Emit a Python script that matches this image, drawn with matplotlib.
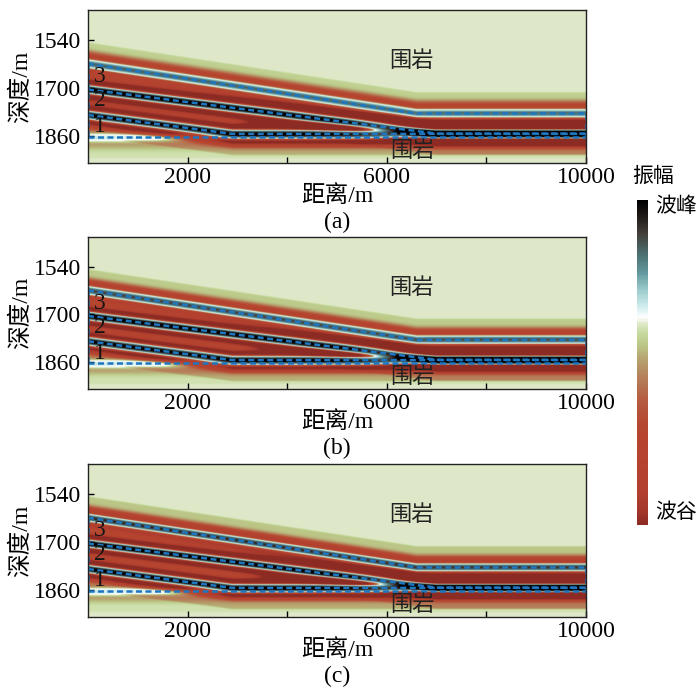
import numpy as np
import matplotlib
matplotlib.use("Agg")
import matplotlib.pyplot as plt
from matplotlib.colors import LinearSegmentedColormap, FuncNorm, Normalize
from matplotlib.cm import ScalarMappable

plt.rcParams['font.family'] = ['Liberation Serif', 'Noto Sans CJK SC', 'DejaVu Sans']
plt.rcParams['axes.unicode_minus'] = False

# ---------------- model data ----------------
# interfaces of the three-layer wedge model (distance m, depth m)
i1_x = [0, 6600, 10000];  i1_z = [1619, 1785, 1785]   # top of layer 3
i2_x = [0, 7000, 10000];  i2_z = [1705, 1852, 1852]   # top of layer 2
i3_x = [0, 2900, 10000];  i3_z = [1790, 1853, 1853]   # top of layer 1
i4_x = [0, 10000];        i4_z = [1864, 1864]         # base of layer 1

# reflection strength of each interface, one list per panel
refl_a = [0.45, 1.0, 0.90, 0.10]
refl_b = [0.55, 1.0, 0.90, 0.10]
refl_c = [0.65, 1.0, 0.95, 0.10]
# wavelet widths (peak width, trough width) per panel, m
wav_a = [13.0, 38.0]
wav_b = [13.0, 36.0]
wav_c = [12.0, 35.0]

panel_tags = ['(a)', '(b)', '(c)']
layer_names = ['3', '2', '1']
layer_label_x = [240, 240, 240]
layer_label_z = [1663, 1743, 1830]
rock_label_x = [6500, 6520]
rock_label_z = [1613, 1912]

xticks = [2000, 4000, 6000, 8000, 10000]
xtick_labels = ['2000', '', '6000', '', '10000']
yticks = [1540, 1700, 1860]
xlim = (0, 10000)
zlim = (1950, 1440)

# colour scale: position -> colour
cmap_pos = [0.00, 0.04, 0.10, 0.30, 0.38, 0.45, 0.51, 0.56, 0.595, 0.62, 0.64,
            0.67, 0.72, 0.78, 0.84, 0.90, 0.95, 1.00]
cmap_col = ['#8c2b23', '#a3362b', '#b23f2f', '#b6462f', '#b55a3f', '#b57d58',
            '#b6a26e', '#bccb8a', '#c8dca2', '#dfe9c9', '#ffffff', '#d4eeee',
            '#a0cfd0', '#5f969b', '#4b6b6c', '#433d38', '#201c1a', '#000000']
cmap = LinearSegmentedColormap.from_list('amp', list(zip(cmap_pos, cmap_col)))

zero_pos = 0.62
neg_lim, neg_gam = 0.32, 0.8
pos_lim, pos_gam = 0.80, 0.8


def fwd(v):
    v = np.asarray(v, dtype=float)
    a = np.abs(v)
    return np.where(v < 0, -zero_pos * (a / neg_lim) ** neg_gam,
                    (1 - zero_pos) * (a / pos_lim) ** pos_gam)


def inv(y):
    y = np.asarray(y, dtype=float)
    a = np.abs(y)
    return np.where(y < 0, -neg_lim * (a / zero_pos) ** (1 / neg_gam),
                    pos_lim * (a / (1 - zero_pos)) ** (1 / pos_gam))


norm = FuncNorm((fwd, inv), vmin=-neg_lim, vmax=pos_lim)

# ---------------- synthetic section ----------------
xg = np.arange(0, 10001, 20.0)
zg = np.arange(1440, 1951, 1.0)
X, Z = np.meshgrid(xg, zg)
ifaces = [(i1_x, i1_z), (i2_x, i2_z), (i3_x, i3_z), (i4_x, i4_z)]


def wavelet(t, sg, sp):
    c = 0.45
    tail = 0.03 * 0.5 * (1 - np.tanh((np.abs(t) - 70) / 2.0))
    return (1 + c) * np.exp(-(t / sg) ** 2) - c * np.exp(-(t / sp) ** 4) - tail


def section(refl, wav):
    amp = np.zeros_like(X)
    for (ix, iz), r in zip(ifaces, refl):
        zi = np.interp(xg, ix, iz)[None, :]
        amp += r * wavelet(Z - zi, wav[0], wav[1])
    return amp


fig = plt.figure(figsize=(7, 6.91), dpi=100)
W, H = 700.0, 691.0
ax_px = [(10, 163), (237, 389), (464, 617)]
left, right = 88, 586
line_col = '#1f76c0'
dash = (2.4, 1.4)

for k, (refl, wav) in enumerate([(refl_a, wav_a), (refl_b, wav_b), (refl_c, wav_c)]):
    top, bot = ax_px[k]
    ax = fig.add_axes([left / W, 1 - bot / H, (right - left) / W, (bot - top) / H])
    amp = section(refl, wav)
    ax.imshow(amp, cmap=cmap, norm=norm, aspect='auto', interpolation='bilinear',
              extent=[xg[0] - 10, xg[-1] + 10, zg[-1] + 0.5, zg[0] - 0.5])
    for ix, iz in ifaces:
        ax.plot(ix, iz, color=line_col, lw=1.8, dashes=dash)
    for xe, j in [(i1_x[0], 0), (i1_x[-1], -1)]:
        ax.plot([xe, xe], [i1_z[j], i4_z[j]], color=line_col, lw=1.8, dashes=dash)
    ax.set_xlim(*xlim)
    ax.set_ylim(*zlim)
    ax.set_xticks(xticks)
    ax.set_xticklabels(xtick_labels)
    ax.set_yticks(yticks)
    ax.tick_params(direction='in', length=4, width=1, labelsize=17, colors='black')
    ax.tick_params(axis='x', pad=3)
    ax.tick_params(axis='y', pad=5)
    for s in ax.spines.values():
        s.set_linewidth(1.0)
        s.set_color('#222222')
    for name, lx, lz in zip(layer_names, layer_label_x, layer_label_z):
        ax.text(lx, lz, name, fontsize=17, ha='center', va='center', color='#151515')
    for lx, lz in zip(rock_label_x, rock_label_z):
        ax.text(lx, lz, '围岩', fontsize=16, ha='center', va='center', color='#222222')
    h = bot - top
    wpx = right - left
    ax.set_xlabel('距离/m', fontsize=17)
    ax.xaxis.set_label_coords(0.5, -33 / h)
    ax.xaxis.label.set_va('center')
    ax.set_ylabel('深度/m', fontsize=17)
    ax.yaxis.set_label_coords(-(left - 21) / wpx, 0.5)
    ax.yaxis.label.set_va('center')
    ax.text(0.5, -59 / h, panel_tags[k], transform=ax.transAxes, fontsize=17,
            ha='center', va='center')

cax = fig.add_axes([637 / W, 1 - 525 / H, 11 / W, 325 / H])
cb = fig.colorbar(ScalarMappable(norm=Normalize(0, 1), cmap=cmap), cax=cax)
cb.set_ticks([])
cb.outline.set_visible(False)
fig.text(653 / W, 1 - 177 / H, '振幅', fontsize=15, ha='center', va='center')
fig.text(676 / W, 1 - 207 / H, '波峰', fontsize=15, ha='center', va='center')
fig.text(676 / W, 1 - 513 / H, '波谷', fontsize=15, ha='center', va='center')

fig.savefig('out.png', dpi=100)
